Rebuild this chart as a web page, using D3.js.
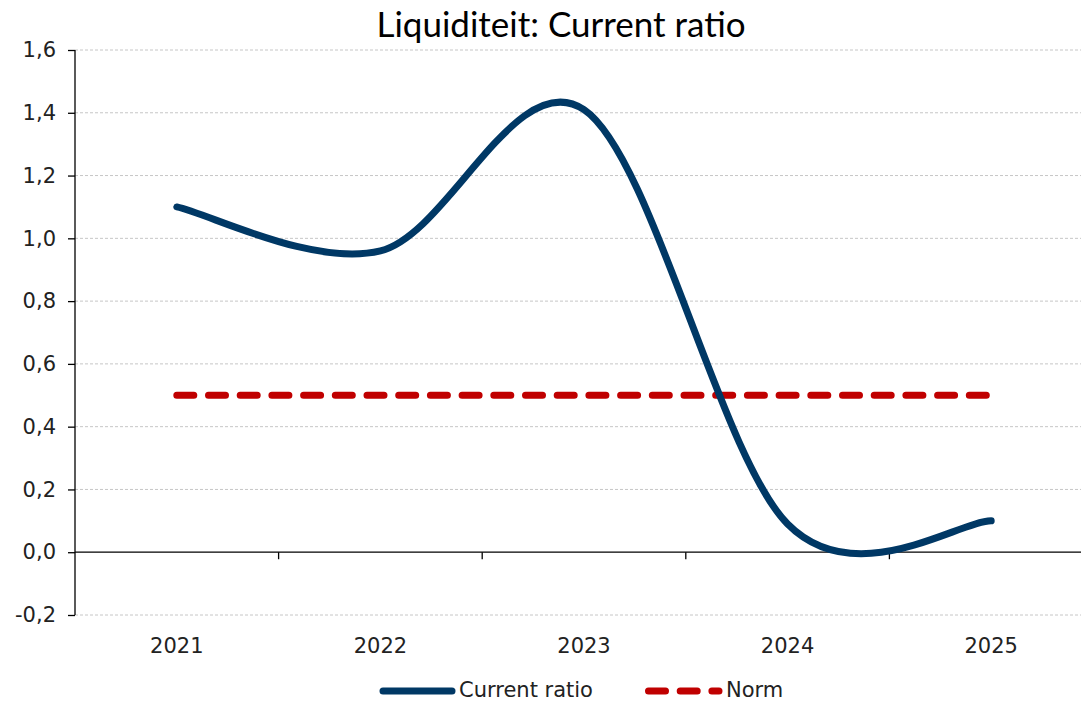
<!DOCTYPE html>
<html>
<head>
<meta charset="utf-8">
<script src="https://cdn.jsdelivr.net/npm/d3@7"></script>
<style>
  html, body { margin: 0; padding: 0; background: #fff; }
  svg { display: block; }
</style>
</head>
<body>
<svg id="chart" width="1081" height="702"></svg>
<script>
const categories = ["2021", "2022", "2023", "2024", "2025"];
const currentRatio = [1.1, 0.96, 1.41, 0.09, 0.1];
const norm = [0.5, 0.5, 0.5, 0.5, 0.5];
const yTicks = [-0.2, 0, 0.2, 0.4, 0.6, 0.8, 1.0, 1.2, 1.4, 1.6];
const seriesNames = ["Current ratio", "Norm"];
const titleText = "Liquiditeit: Current ratio";

(function () {
const W = 1081, H = 702;
const mLeft = 75, mTop = 50, mBottom = 615;
const band = 203.6;
const mRight = mLeft + band * categories.length;

const svg = d3.select("#chart");
const fontAxis = "'DejaVu Sans', Verdana, sans-serif";
const blue = "#003865", red = "#c00000";

const x = d3.scaleBand().domain(categories).range([mLeft, mRight]).paddingInner(0).paddingOuter(0);
const y = d3.scaleLinear().domain([-0.2, 1.6]).range([mBottom, mTop]);
const cx = d => x(d) + x.bandwidth() / 2;

// Spreadsheet-style smoothed curve (Catmull-Rom Bezier, chord tangents at ends)
function smoothCurve(context) {
  let pts;
  return {
    areaStart() {}, areaEnd() {},
    lineStart() { pts = []; },
    point(px, py) { pts.push([+px, +py]); },
    lineEnd() {
      const n = pts.length;
      if (!n) return;
      context.moveTo(pts[0][0], pts[0][1]);
      for (let i = 0; i < n - 1; i++) {
        const p0 = pts[i - 1] || pts[i], p1 = pts[i], p2 = pts[i + 1], p3 = pts[i + 2] || pts[i + 1];
        context.bezierCurveTo(
          p1[0] + (p2[0] - p0[0]) / 6, p1[1] + (p2[1] - p0[1]) / 6,
          p2[0] - (p3[0] - p1[0]) / 6, p2[1] - (p3[1] - p1[1]) / 6,
          p2[0], p2[1]);
      }
    }
  };
}

// gridlines
svg.append("g").selectAll("line")
  .data(yTicks.filter(v => v !== 0))
  .join("line")
  .attr("x1", mLeft).attr("x2", W)
  .attr("y1", d => y(d)).attr("y2", d => y(d))
  .attr("stroke", "#c6c6c6").attr("stroke-width", 1)
  .attr("stroke-dasharray", "3,2");

// y axis
const yAxis = d3.axisLeft(y).tickValues(yTicks).tickSize(7).tickPadding(12)
  .tickFormat(d => d3.format(".1f")(d).replace(".", ",").replace("\u2212", "-"));
const gy = svg.append("g").attr("transform", `translate(${mLeft},0)`).call(yAxis);
gy.select(".domain").attr("stroke", "#000").attr("stroke-width", 1.3).attr("d", `M0,${y(1.6)}V${y(-0.2)}`);
gy.selectAll(".tick line").attr("stroke", "#000").attr("stroke-width", 1.3);
gy.selectAll(".tick text").attr("font-family", fontAxis).attr("font-size", 21).attr("fill", "#222");

// x axis at zero
const gx = svg.append("g").attr("transform", `translate(0,${y(0)})`);
gx.append("line").attr("x1", mLeft).attr("x2", W).attr("y1", 0).attr("y2", 0)
  .attr("stroke", "#000").attr("stroke-width", 1.3);
gx.selectAll("line.tk").data(categories.slice(1)).join("line").attr("class", "tk")
  .attr("x1", d => x(d)).attr("x2", d => x(d)).attr("y1", 0).attr("y2", 7)
  .attr("stroke", "#000").attr("stroke-width", 1.3);
svg.append("g").selectAll("text").data(categories).join("text")
  .attr("x", d => cx(d)).attr("y", 653)
  .attr("text-anchor", "middle")
  .attr("font-family", fontAxis).attr("font-size", 21).attr("fill", "#222")
  .text(d => d);

// norm line
const lineStraight = d3.line().x((d, i) => cx(categories[i])).y(d => y(d));
svg.append("path").datum(norm)
  .attr("d", lineStraight)
  .attr("fill", "none").attr("stroke", red).attr("stroke-width", 7)
  .attr("stroke-linecap", "round").attr("stroke-dasharray", "17,14.7");

// current ratio smooth line
const lineSmooth = d3.line().x((d, i) => cx(categories[i])).y(d => y(d)).curve(smoothCurve);
svg.append("path").datum(currentRatio)
  .attr("d", lineSmooth)
  .attr("fill", "none").attr("stroke", blue).attr("stroke-width", 7)
  .attr("stroke-linecap", "round").attr("stroke-linejoin", "round");

// title
svg.append("text").attr("x", 561).attr("y", 37).attr("text-anchor", "middle")
  .attr("font-family", "Lato, 'Open Sans', sans-serif").attr("font-size", 35).attr("fill", "#000")
  .text(titleText);

// legend
const lg = svg.append("g");
lg.append("line").attr("x1", 383).attr("x2", 452).attr("y1", 691).attr("y2", 691)
  .attr("stroke", blue).attr("stroke-width", 7).attr("stroke-linecap", "round");
lg.append("text").attr("x", 459).attr("y", 697).attr("font-family", fontAxis).attr("font-size", 21).attr("fill", "#222").text(seriesNames[0]);
lg.append("line").attr("x1", 648.5).attr("x2", 719).attr("y1", 691).attr("y2", 691)
  .attr("stroke", red).attr("stroke-width", 7).attr("stroke-linecap", "round").attr("stroke-dasharray", "17,14.7");
lg.append("text").attr("x", 726).attr("y", 697).attr("font-family", fontAxis).attr("font-size", 21).attr("fill", "#222").text(seriesNames[1]);
})();
</script>
</body>
</html>
